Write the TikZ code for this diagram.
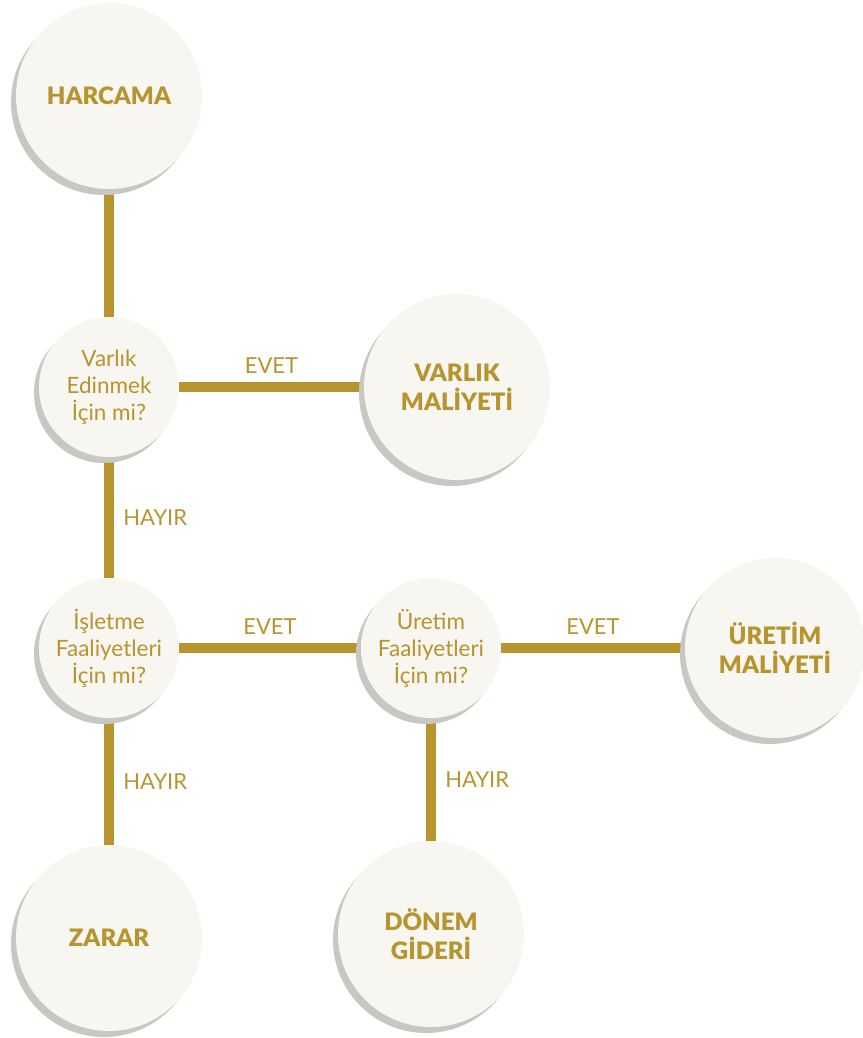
\documentclass[tikz,border=0pt]{standalone}
\usepackage{fontspec}
\setmainfont[BoldFont={Lato Black}]{Lato}
\usetikzlibrary{positioning, backgrounds}

\definecolor{gold}{HTML}{B8942E}
\definecolor{cream}{HTML}{F8F6F0}
\definecolor{shade}{HTML}{C9C7C1}

\begin{document}
\begin{tikzpicture}[
    x=1pt, y=-1pt,
    bubble/.style={
        circle, fill=cream, inner sep=0pt,
        preaction={fill=shade, transform canvas={xshift=-5pt, yshift=-6pt}},
        align=center, text=gold
    },
    result/.style={
        bubble, minimum size=186pt,
        font=\fontsize{24}{29}\selectfont\bfseries
    },
    question/.style={
        bubble, minimum size=140pt,
        font=\fontsize{22.5}{27}\selectfont
    },
    link/.style={line width=10pt, gold},
    lbl/.style={text=gold, font=\fontsize{22}{24}\selectfont}
]
\useasboundingbox (0,0) rectangle (862,1038);

\node (harcama)   [result]   at (109,96)  {HARCAMA};
\node (varlik)    [question] at (109,387) {Varlık\\Edinmek\\İçin mi?};
\node (varlikmal) [result]   at (457,387) {VARLIK\\MALİYETİ};
\node (isletme)   [question] at (109,648) {İşletme\\Faaliyetleri\\İçin mi?};
\node (uretim)    [question] at (431,648) {Üretim\\Faaliyetleri\\İçin mi?};
\node (uretimmal) [result, minimum size=180pt] at (775,648) {ÜRETİM\\MALİYETİ};
\node (zarar)     [result]   at (109,938) {ZARAR};
\node (donem)     [result]   at (431,934) {DÖNEM\\GİDERİ};

% lines go underneath the bubbles
\begin{scope}[on background layer]
\draw[link] (harcama) -- (varlik);
\draw[link] (varlik) -- node[lbl, above=5pt] {EVET} (varlikmal);
\draw[link] (varlik) -- node[lbl, right=6pt] {HAYIR} (isletme);
\draw[link] (isletme) -- node[lbl, above=5pt] {EVET} (uretim);
\draw[link] (uretim) -- node[lbl, above=5pt] {EVET} (uretimmal);
\draw[link] (isletme) -- node[lbl, right=6pt] {HAYIR} (zarar);
\draw[link] (uretim) -- node[lbl, right=6pt] {HAYIR} (donem);
\end{scope}

\end{tikzpicture}
\end{document}
